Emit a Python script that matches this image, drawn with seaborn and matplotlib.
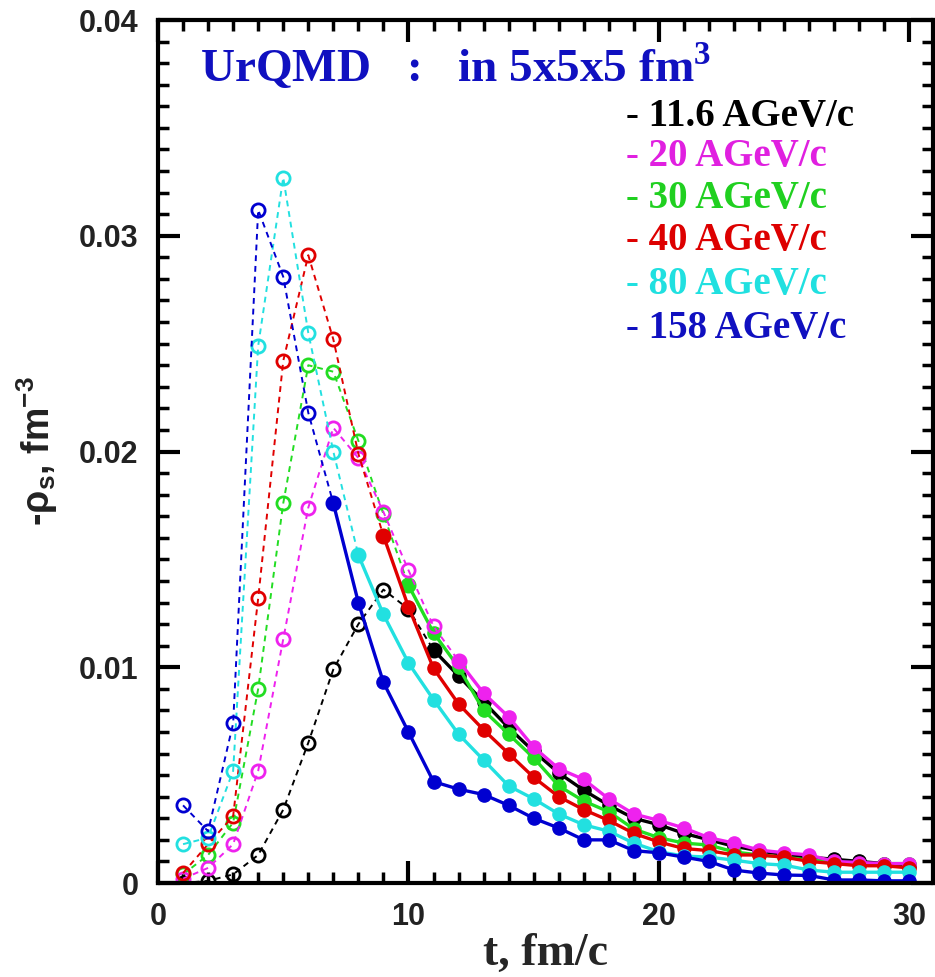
import numpy as np
import pandas as pd
import matplotlib
matplotlib.use("Agg")
import matplotlib.pyplot as plt
from matplotlib.ticker import MultipleLocator, FuncFormatter
import seaborn as sns

# ---------------- data ----------------
t = list(range(1, 31))

labels = ["11.6 AGeV/c", "20 AGeV/c", "30 AGeV/c", "40 AGeV/c", "80 AGeV/c", "158 AGeV/c"]

rho_116 = [0.0, 0.0001, 0.0004, 0.0013, 0.0034, 0.0065, 0.0099, 0.0120, 0.0136, 0.0127,
           0.0108, 0.0096, 0.0084, 0.0072, 0.0061, 0.0051, 0.0043, 0.0036, 0.0030, 0.0027,
           0.0023, 0.0020, 0.0017, 0.0015, 0.0013, 0.0012, 0.0011, 0.0010, 0.0009, 0.0008]
rho_20 = [0.0002, 0.0007, 0.0018, 0.0052, 0.0113, 0.0174, 0.0211, 0.0197, 0.0172, 0.0145,
          0.0119, 0.0103, 0.0088, 0.0077, 0.0063, 0.0053, 0.0048, 0.0039, 0.0032, 0.0029,
          0.00255, 0.0021, 0.00185, 0.00153, 0.0014, 0.0013, 0.0010, 0.00095, 0.0009, 0.0009]
rho_30 = [0.0004, 0.0013, 0.0028, 0.0090, 0.0176, 0.0240, 0.0237, 0.0205, 0.0171, 0.0138,
          0.0116, 0.0100, 0.0080, 0.0069, 0.0058, 0.0045, 0.0038, 0.0033, 0.0025, 0.0021,
          0.00185, 0.00176, 0.00144, 0.0013, 0.0012, 0.00106, 0.00097, 0.0009, 0.0009, 0.0009]
rho_40 = [0.00046, 0.0018, 0.0031, 0.0132, 0.0242, 0.0291, 0.0252, 0.0199, 0.0161, 0.0128,
          0.00995, 0.0083, 0.0071, 0.0060, 0.0049, 0.0040, 0.0034, 0.0029, 0.0023, 0.0019,
          0.0016, 0.0015, 0.0013, 0.0013, 0.0012, 0.0010, 0.0009, 0.0008, 0.0008, 0.0007]
rho_80 = [0.0018, 0.0021, 0.0052, 0.0249, 0.0327, 0.0255, 0.0200, 0.0152, 0.01245, 0.0102,
          0.0085, 0.0069, 0.0057, 0.0045, 0.0039, 0.0032, 0.0027, 0.0024, 0.00185, 0.00145,
          0.00125, 0.0012, 0.00106, 0.0009, 0.00083, 0.0006, 0.0005, 0.0005, 0.0005, 0.0005]
rho_158 = [0.0036, 0.0024, 0.0074, 0.0312, 0.0281, 0.0218, 0.0176, 0.0130, 0.0093, 0.0070,
           0.0047, 0.00435, 0.0041, 0.0036, 0.0030, 0.00255, 0.0020, 0.0020, 0.0015, 0.0014,
           0.0012, 0.0010, 0.0006, 0.00046, 0.00037, 0.00035, 0.00014, 0.00014, 0.0001, 0.0001]

# first time step drawn with filled markers / solid line
switch_t = [11, 12, 10, 9, 8, 7]

colors = ["#000000", "#ee22ee", "#22dd22", "#e00000", "#22e0e0", "#0000d0"]
text_colors = ["#000000", "#e020e0", "#20d020", "#dd0000", "#20e0e0", "#1010c0"]

series = [rho_116, rho_20, rho_30, rho_40, rho_80, rho_158]

# ---------------- style ----------------
sns.set_theme(style="ticks")
plt.rcParams["font.family"] = ["Liberation Sans", "DejaVu Sans"]

fig = plt.figure(figsize=(9.35, 9.77), dpi=100)
ax = fig.add_axes([0.169, 0.0962, 0.829, 0.8833])

order = [0, 2, 1, 3, 4, 5]
for i in order:
    df = pd.DataFrame({"t": t, "rho": series[i]})
    early = df[df["t"] <= switch_t[i]]
    late = df[df["t"] >= switch_t[i]]
    sns.lineplot(data=early, x="t", y="rho", ax=ax, color=colors[i], lw=1.4,
                 linestyle=(0, (3, 2.5)), marker="o", markersize=9.5,
                 markerfacecolor="none", markeredgecolor=colors[i],
                 markeredgewidth=2.0, estimator=None, sort=False)
    sns.lineplot(data=late, x="t", y="rho", ax=ax, color=colors[i], lw=2.4,
                 linestyle="-", marker="o", markersize=9.5,
                 markerfacecolor=colors[i], markeredgecolor=colors[i],
                 markeredgewidth=1.0, estimator=None, sort=False)

ax.set_xlim(0, 30.95)
ax.set_ylim(0, 0.04)

ax.xaxis.set_major_locator(MultipleLocator(10))
ax.xaxis.set_minor_locator(MultipleLocator(1))
ax.yaxis.set_major_locator(MultipleLocator(0.01))
ax.yaxis.set_minor_locator(MultipleLocator(0.001))
ax.yaxis.set_major_formatter(FuncFormatter(lambda v, p: "0" if abs(v) < 1e-9 else f"{v:.2f}"))
ax.xaxis.set_major_formatter(FuncFormatter(lambda v, p: f"{v:.0f}"))

ax.tick_params(which="both", direction="in", top=True, right=True, color="black")
ax.tick_params(which="major", length=16, width=3)
ax.tick_params(which="minor", length=8, width=2.5)
ax.tick_params(axis="y", which="major", pad=14, labelsize=22, labelcolor="#222222")
ax.tick_params(axis="x", which="major", pad=14, labelsize=22, labelcolor="#222222")
for lab in ax.get_xticklabels() + ax.get_yticklabels():
    lab.set_fontweight("bold")

for sp in ax.spines.values():
    sp.set_linewidth(3)
    sp.set_color("black")

ax.set_xlabel("t, fm/c", fontfamily="Liberation Serif", fontweight="bold",
              fontsize=33, labelpad=0)
ax.set_ylabel("-ρ$_\\mathregular{s}$, fm$^\\mathregular{-3}$", fontfamily="Liberation Sans",
              fontweight="bold", fontsize=27, labelpad=14, color="#222222")

ax.text(0.054, 0.928, "UrQMD   :   in 5x5x5 fm$^\\mathregular{3}$", transform=ax.transAxes,
        fontfamily="Liberation Serif", fontweight="bold", fontsize=34, color="#1010c0",
        ha="left", va="baseline")

leg_y = [0.888, 0.842, 0.793, 0.744, 0.694, 0.643]
for i, lab in enumerate(labels):
    ax.text(0.604, leg_y[i], "- " + lab, transform=ax.transAxes,
            fontfamily="Liberation Serif", fontweight="bold", fontsize=28,
            color=text_colors[i], ha="left", va="center")

fig.savefig("out.png", dpi=100)
